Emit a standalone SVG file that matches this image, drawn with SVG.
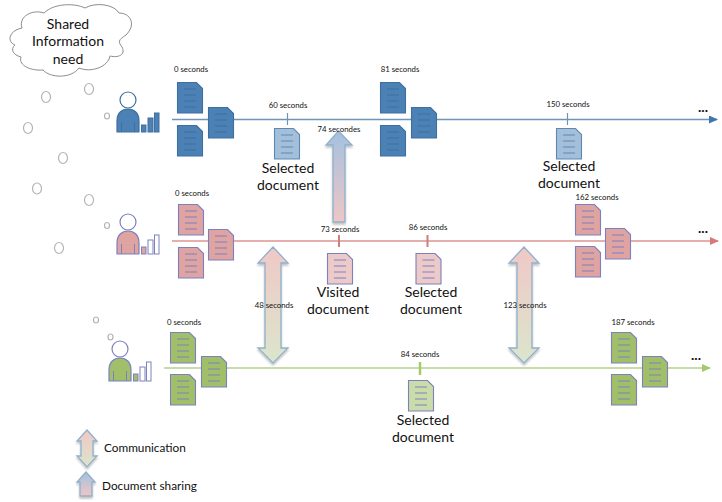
<svg xmlns="http://www.w3.org/2000/svg" xmlns:xlink="http://www.w3.org/1999/xlink" width="722" height="502" viewBox="0 0 722 502">
<style>
text{font-family:"Lato","Open Sans","Liberation Sans",sans-serif;fill:#111}
.s{font-size:7.800px;text-anchor:middle}
.l{font-size:14px;text-anchor:middle}
.g{font-size:11.800px}
.e{font-size:14px;font-weight:700;text-anchor:middle}
.b{fill:none;stroke:#b4b4b4;stroke-width:1.200}
.ln{fill:none}
.ar{stroke:#8fb0cc;stroke-width:1.300}
.w{fill:#fff}
</style>
<defs>
<linearGradient id="up" x1="0" y1="0" x2="0" y2="1"><stop offset="0" stop-color="#a5c1e0"/><stop offset="1" stop-color="#eec6c4"/></linearGradient>
<linearGradient id="dbl" x1="0" y1="0" x2="0" y2="1"><stop offset="0" stop-color="#f0c8c6"/><stop offset="1" stop-color="#dbe5cc"/></linearGradient>
<filter id="sh" x="-20%" y="-10%" width="140%" height="125%"><feGaussianBlur in="SourceAlpha" stdDeviation="1"/><feOffset dy="1.500"/><feComponentTransfer><feFuncA type="linear" slope=".25"/></feComponentTransfer><feMerge><feMergeNode/><feMergeNode in="SourceGraphic"/></feMerge></filter>
<g id="doc"><path d="M0.500 0.500H19.500L25.500 6.500V31H0.500Z" stroke-width="1.100"/><path d="M7 7H19M7 13H19M7 19H19M7 25H19" fill="none" stroke-width="1.100"/></g>
<g id="person"><circle cx="11" cy="-9" r="8" fill="#fff" stroke-width="1.200"/><path d="M0 23V12C0 4 5 0 11 0S22 4 22 12V23Z" stroke-width="1.200"/><path d="M4.500 23V13M17.500 23V13" fill="none" stroke-width="1"/><rect x="24.500" y="16" width="4.500" height="7" stroke-width="1"/></g>
<marker id="mb" markerWidth="9" markerHeight="8" refX="8" refY="4" orient="auto" markerUnits="userSpaceOnUse"><path d="M0 0L9 4L0 8Z" fill="#3f77ab"/></marker>
<marker id="mr" markerWidth="9" markerHeight="8" refX="8" refY="4" orient="auto" markerUnits="userSpaceOnUse"><path d="M0 0L9 4L0 8Z" fill="#d97a78"/></marker>
<marker id="mg" markerWidth="9" markerHeight="8" refX="8" refY="4" orient="auto" markerUnits="userSpaceOnUse"><path d="M0 0L9 4L0 8Z" fill="#a4c96f"/></marker>
</defs>
<rect width="722" height="502" fill="#fff"/>

<g id="connectors">
<path d="M172 119.500H717" class="ln" stroke="#6e94b8" marker-end="url(#mb)" stroke-width="1.300"/>
<path d="M287.500 113V125M567.500 113V125" class="ln" stroke="#6e94b8" stroke-width="1.200"/>
<path d="M172 241H718" class="ln" stroke="#dd9492" marker-end="url(#mr)" stroke-width="1.500"/>
<path d="M339 235V247M427.500 235V247" fill="none" stroke="#cf7e7c" stroke-width="2"/>
<path d="M164 368H710" class="ln" stroke="#b5d28c" marker-end="url(#mg)" stroke-width="1.500"/>
<path d="M420 362V375" fill="none" stroke="#a4c96f" stroke-width="2.500"/>
</g>

<g id="thought-cloud">
<path d="M15 45C7 42 8 31 22 28C18 16 33 9 44 13C54 3 75 3 85 8C95 2 114 4 119 13C130 13 137 24 126 35C118 40 118 42 122 47C126 55 118 58 110 56C108 67 91 73 79 68C71 79 50 78 43 70C32 71 18 66 21 57C13 55 10 49 15 45Z" fill="#fff" stroke="#8c8c8c" stroke-width="1"/>
<text class="l" x="68" y="29">Shared</text>
<text class="l" x="68" y="46">Information</text>
<text class="l" x="68" y="64">need</text>
</g>
<g id="bubbles">
<ellipse class="b" cx="46" cy="97" rx="4.500" ry="5.500"/><ellipse class="b" cx="89" cy="89" rx="4.500" ry="5.500"/><ellipse class="b" cx="28" cy="128" rx="4.500" ry="5.500"/><ellipse class="b" cx="63" cy="158" rx="4.500" ry="5.500"/><ellipse class="b" cx="107" cy="116" rx="2.500" ry="3"/>
<ellipse class="b" cx="37" cy="188.500" rx="4.500" ry="5.500"/><ellipse class="b" cx="89" cy="200" rx="4.500" ry="5.500"/><ellipse class="b" cx="107" cy="225.500" rx="2.500" ry="3"/><ellipse class="b" cx="59" cy="248" rx="4.500" ry="5.500"/><ellipse class="b" cx="96" cy="320" rx="2.500" ry="3"/><ellipse class="b" cx="110.500" cy="337" rx="2.500" ry="3"/>
</g>

<g id="user-blue" fill="#4b81b4" stroke="#3f6f9f"><use xlink:href="#person" href="#person" x="117" y="109"/><rect x="148" y="118" width="5" height="14"/><rect x="154.500" y="113" width="4.500" height="19"/></g>
<g id="user-red" fill="#dfa3a1" stroke="#7c80bf"><use xlink:href="#person" href="#person" x="117" y="231"/><rect class="w" x="148" y="240" width="5" height="14"/><rect class="w" x="154.500" y="235" width="4.500" height="19"/></g>
<g id="user-green" fill="#a1bf69" stroke="#7c80bf"><use xlink:href="#person" href="#person" x="109" y="358"/><rect class="w" x="140" y="367" width="5" height="14"/><rect class="w" x="146.500" y="362" width="4.500" height="19"/></g>

<g id="docs-blue-0" fill="#4b81b4" stroke="#3f6f9f"><use xlink:href="#doc" href="#doc" x="177" y="82"/><use xlink:href="#doc" href="#doc" x="177" y="125"/><use xlink:href="#doc" href="#doc" x="208" y="107"/></g>
<g id="docs-blue-81" fill="#4b81b4" stroke="#3f6f9f"><use xlink:href="#doc" href="#doc" x="380" y="82"/><use xlink:href="#doc" href="#doc" x="380" y="125"/><use xlink:href="#doc" href="#doc" x="411" y="107"/></g>
<g id="doc-blue-60" fill="#a3bfda" stroke="#5d89b3"><use xlink:href="#doc" href="#doc" x="274" y="128"/></g>
<g id="doc-blue-150" fill="#a3bfda" stroke="#5d89b3"><use xlink:href="#doc" href="#doc" x="556" y="128"/></g>
<g id="docs-red-0" fill="#dfa3a1" stroke="#7c80bf"><use xlink:href="#doc" href="#doc" x="178" y="204"/><use xlink:href="#doc" href="#doc" x="178" y="247"/><use xlink:href="#doc" href="#doc" x="208" y="229"/></g>
<g id="docs-red-162" fill="#dfa3a1" stroke="#7c80bf"><use xlink:href="#doc" href="#doc" x="575" y="204"/><use xlink:href="#doc" href="#doc" x="575" y="246"/><use xlink:href="#doc" href="#doc" x="605" y="228"/></g>
<g id="doc-red-73" fill="#eccaca" stroke="#7c80bf"><use xlink:href="#doc" href="#doc" x="327" y="253"/></g>
<g id="doc-red-86" fill="#eccaca" stroke="#7c80bf"><use xlink:href="#doc" href="#doc" x="415.500" y="253"/></g>
<g id="docs-green-0" fill="#a1bf69" stroke="#7c80bf"><use xlink:href="#doc" href="#doc" x="170" y="332"/><use xlink:href="#doc" href="#doc" x="170" y="374"/><use xlink:href="#doc" href="#doc" x="201" y="356"/></g>
<g id="docs-green-187" fill="#a1bf69" stroke="#7c80bf"><use xlink:href="#doc" href="#doc" x="611" y="332"/><use xlink:href="#doc" href="#doc" x="611" y="374"/><use xlink:href="#doc" href="#doc" x="642" y="356"/></g>
<g id="doc-green-84" fill="#cbdcab" stroke="#7c80bf"><use xlink:href="#doc" href="#doc" x="408" y="380"/></g>

<g id="arrow-74"><path class="ar" filter="url(#sh)" fill="url(#up)" d="M338.500 131L352 145H345V222H333V145H326Z"/></g>
<g id="arrow-48"><path class="ar" filter="url(#sh)" fill="url(#dbl)" d="M273 247L288 263H281V348H288L273 363L258 348H265V263H258Z"/></g>
<g id="arrow-123"><path class="ar" filter="url(#sh)" fill="url(#dbl)" d="M524 247L539 263H532V348H539L524 363L509 348H517V263H509Z"/></g>
<g id="legend-communication"><path class="ar" filter="url(#sh)" fill="url(#dbl)" d="M87 430L97 441H93V456H97L87 467L77 456H81V441H77Z"/><text class="g" x="104" y="452">Communication</text></g>
<g id="legend-sharing"><path class="ar" filter="url(#sh)" fill="url(#up)" d="M86 472L95 482H92V496H80V482H77Z"/><text class="g" x="102" y="490">Document sharing</text></g>

<g id="labels">
<text class="s" x="191" y="72">0 seconds</text>
<text class="s" x="288" y="108">60 seconds</text>
<text class="s" x="400" y="72">81 seconds</text>
<text class="s" x="568" y="107">150 seconds</text>
<text class="s" x="339" y="132">74 secondes</text>
<text class="s" x="192" y="196">0 seconds</text>
<text class="s" x="340" y="232">73 seconds</text>
<text class="s" x="428" y="230">86 seconds</text>
<text class="s" x="597" y="199.500">162 seconds</text>
<text class="s" x="274" y="308">48 seconds</text>
<text class="s" x="525" y="308">123 seconds</text>
<text class="s" x="184" y="325">0 seconds</text>
<text class="s" x="420" y="357">84 seconds</text>
<text class="s" x="633" y="325">187 seconds</text>
<text class="l" x="288" y="173">Selected</text><text class="l" x="288" y="190">document</text>
<text class="l" x="569" y="171">Selected</text><text class="l" x="569" y="188">document</text>
<text class="l" x="338" y="297">Visited</text><text class="l" x="338" y="314">document</text>
<text class="l" x="431" y="297">Selected</text><text class="l" x="431" y="314">document</text>
<text class="l" x="423" y="425">Selected</text><text class="l" x="423" y="442">document</text>
<text class="e" x="703" y="112">...</text>
<text class="e" x="703" y="233">...</text>
<text class="e" x="696" y="360">...</text>
</g>
</svg>
